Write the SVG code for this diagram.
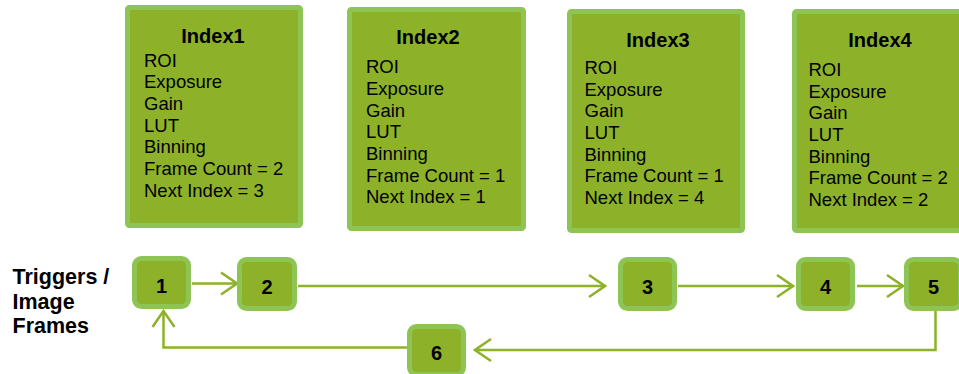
<svg xmlns="http://www.w3.org/2000/svg" width="959" height="374" viewBox="0 0 959 374">
<style>
.big{fill:#8DB22A;stroke:#8DC453;stroke-width:5}
.sm{fill:#8DB22A;stroke:#8DC453;stroke-width:5}
.t{font-family:"Liberation Sans",Arial,sans-serif;font-size:18.5px;fill:#000}
.h{font-family:"Liberation Sans",Arial,sans-serif;font-size:20px;font-weight:bold;fill:#000;text-anchor:middle}
.n{font-family:"Liberation Sans",Arial,sans-serif;font-size:20px;font-weight:bold;fill:#000;text-anchor:middle}
.lab{font-family:"Liberation Sans",Arial,sans-serif;font-size:21.5px;font-weight:bold;fill:#000}
.c{fill:none;stroke:#8DB22A;stroke-width:2.5}
</style>
<defs>
<marker id="ah" markerUnits="userSpaceOnUse" markerWidth="20" markerHeight="26" refX="18" refY="12" orient="auto" viewBox="0 0 20 24">
<path d="M2,1 L18,12 L2,23" fill="none" stroke="#8DB22A" stroke-width="2.5"/>
</marker>
</defs>
<rect width="959" height="374" fill="#fff"/>
<g id="index1">
<rect class="big" x="127.5" y="7.5" width="173" height="218" rx="2"/>
<text class="h" x="213" y="43">Index1</text>
<text class="t" x="144" y="66.7">ROI</text>
<text class="t" x="144" y="88.3">Exposure</text>
<text class="t" x="144" y="110">Gain</text>
<text class="t" x="144" y="131.7">LUT</text>
<text class="t" x="144" y="153.3">Binning</text>
<text class="t" x="144" y="175">Frame Count = 2</text>
<text class="t" x="144" y="196.7">Next Index = 3</text>
</g>
<g id="index2">
<rect class="big" x="349.5" y="9.5" width="174" height="219" rx="2"/>
<text class="h" x="428" y="43.5">Index2</text>
<text class="t" x="366" y="73.3">ROI</text>
<text class="t" x="366" y="95">Exposure</text>
<text class="t" x="366" y="116.7">Gain</text>
<text class="t" x="366" y="138.3">LUT</text>
<text class="t" x="366" y="160">Binning</text>
<text class="t" x="366" y="181.7">Frame Count = 1</text>
<text class="t" x="366" y="203.3">Next Index = 1</text>
</g>
<g id="index3">
<rect class="big" x="569.5" y="11.5" width="173" height="219" rx="2"/>
<text class="h" x="658" y="46.7">Index3</text>
<text class="t" x="584.5" y="74">ROI</text>
<text class="t" x="584.5" y="95.7">Exposure</text>
<text class="t" x="584.5" y="117.3">Gain</text>
<text class="t" x="584.5" y="139">LUT</text>
<text class="t" x="584.5" y="160.7">Binning</text>
<text class="t" x="584.5" y="182.3">Frame Count = 1</text>
<text class="t" x="584.5" y="204">Next Index = 4</text>
</g>
<g id="index4">
<rect class="big" x="794.5" y="11.5" width="173" height="219" rx="2"/>
<text class="h" x="880" y="46.7">Index4</text>
<text class="t" x="808.5" y="76">ROI</text>
<text class="t" x="808.5" y="97.7">Exposure</text>
<text class="t" x="808.5" y="119.3">Gain</text>
<text class="t" x="808.5" y="141">LUT</text>
<text class="t" x="808.5" y="162.7">Binning</text>
<text class="t" x="808.5" y="184.3">Frame Count = 2</text>
<text class="t" x="808.5" y="206">Next Index = 2</text>
</g>
<g id="label">
<text class="lab" x="12.5" y="284">Triggers /</text>
<text class="lab" x="12.5" y="308.5">Image</text>
<text class="lab" x="12.5" y="333">Frames</text>
</g>
<g id="connectors">
<path class="c" d="M192,283.5 L237,283.5" marker-end="url(#ah)"/>
<path class="c" d="M298,286 L605,286" marker-end="url(#ah)"/>
<path class="c" d="M678,286 L793,286" marker-end="url(#ah)"/>
<path class="c" d="M857,286 L903,286" marker-end="url(#ah)"/>
<path class="c" d="M935.5,311 L935.5,350 L475,350" marker-end="url(#ah)"/>
<path class="c" d="M407,347.5 L163.5,347.5 L163.5,311" marker-end="url(#ah)"/>
</g>
<g id="n1"><rect class="sm" x="134.5" y="258.5" width="54" height="48" rx="7"/><text class="n" x="161.5" y="292.5">1</text></g>
<g id="n2"><rect class="sm" x="239.5" y="259.5" width="55" height="49" rx="7"/><text class="n" x="267" y="294">2</text></g>
<g id="n3"><rect class="sm" x="620.5" y="259.5" width="54" height="49" rx="7"/><text class="n" x="647.5" y="294">3</text></g>
<g id="n4"><rect class="sm" x="798.5" y="259.5" width="54" height="49" rx="7"/><text class="n" x="825.5" y="294">4</text></g>
<g id="n5"><rect class="sm" x="906.5" y="259.5" width="54" height="49" rx="7"/><text class="n" x="933.5" y="294">5</text></g>
<g id="n6"><rect class="sm" x="409.5" y="326.5" width="54" height="48" rx="7"/><text class="n" x="436.5" y="360">6</text></g>
</svg>
